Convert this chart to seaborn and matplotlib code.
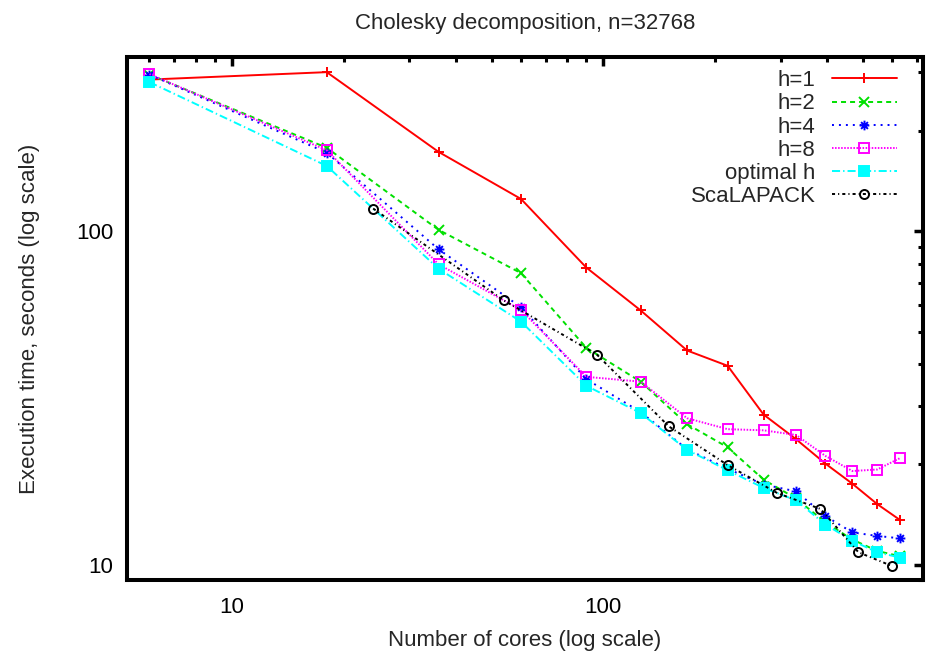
import numpy as np
import pandas as pd
import matplotlib
matplotlib.use("Agg")
import matplotlib.pyplot as plt
import matplotlib.ticker as mticker
from matplotlib.path import Path
import seaborn as sns

# cores used by the h-variants (6 * triangular numbers)
cores_h = [6, 18, 36, 60, 90, 126, 168, 216, 270, 330, 396, 468, 546, 630]
# cores used by ScaLAPACK (6 * squares)
cores_sl = [24, 54, 96, 150, 216, 294, 384, 486, 600]

t_h1 = [285, 300, 173, 125, 77.8, 57.9, 43.9, 39.5, 28.2, 23.8, 20.1, 17.5, 15.2, 13.6]
t_h2 = [295, 178, 101, 74.9, 44.7, 35.4, 26.4, 22.5, 18.0, 15.8, 13.4, 11.9, 11.0, 10.6]
t_h4 = [295, 172, 88.3, 59.2, 36.0, 28.7, 22.2, 19.4, 17.4, 16.6, 14.0, 12.5, 12.2, 12.0]
t_h8 = [296, 175, 79.6, 58.1, 36.6, 35.4, 27.5, 25.5, 25.3, 24.5, 21.2, 19.1, 19.3, 20.9]
t_opt = [280, 157, 77.2, 53.6, 34.4, 28.5, 22.1, 19.2, 17.0, 15.6, 13.2, 11.8, 10.9, 10.5]
t_sl = [117, 62.0, 42.7, 26.0, 19.9, 16.4, 14.7, 10.9, 9.9]

sns.set_theme(style="white")
plt.rcParams["font.family"] = ["Liberation Sans", "DejaVu Sans"]
plt.rcParams["lines.scale_dashes"] = False

# gnuplot-like asterisk: a plus and a cross on top of each other
star = Path([(-1, 0), (1, 0), (0, -1), (0, 1),
             (-0.7, -0.7), (0.7, 0.7), (-0.7, 0.7), (0.7, -0.7)],
            [Path.MOVETO, Path.LINETO] * 4)

fig = plt.figure(figsize=(9.32, 6.57), dpi=100)
ax = fig.add_axes([0.1363, 0.1172, 0.854, 0.796])

series = [
    ("h=1", cores_h, t_h1, "#ff0000", "+", "-", True, 7),
    ("h=2", cores_h, t_h2, "#00e000", "x", (0, (3.6, 2.9)), True, 6.5),
    ("h=4", cores_h, t_h4, "#0000ff", star, (0, (1.4, 3.6)), True, 7),
    ("h=8", cores_h, t_h8, "#ff00ff", "s", (0, (1.1, 1.1)), False, 6.5),
    ("optimal h", cores_h, t_opt, "#00ffff", "s", (0, (5.8, 2.2, 1.0, 2.2)), True, 6.5),
    ("ScaLAPACK", cores_sl, t_sl, "#000000", "o", (0, (2.2, 2.2, 0.8, 2.2)), False, 6.5),
]

for name, xs, ys, col, mk, ls, filled, ms in series:
    df = pd.DataFrame({"cores": xs, "time": ys})
    sns.lineplot(data=df, x="cores", y="time", ax=ax, color=col, marker=mk,
                 linestyle=ls, linewidth=1.4, markersize=ms,
                 markeredgecolor=col, markeredgewidth=1.4,
                 markerfacecolor=col if filled else "none", label=name,
                 legend=False)

ax.set_xscale("log")
ax.set_yscale("log")
ax.set_xlim(5.22, 725)
ax.set_ylim(9, 333)

for a in (ax.xaxis, ax.yaxis):
    a.set_major_formatter(mticker.FormatStrFormatter("%g"))
    a.set_minor_formatter(mticker.NullFormatter())

ax.tick_params(which="both", direction="in", top=True, right=True, colors="black",
               labelsize=16)
ax.tick_params(which="major", length=6.5, width=2.5)
ax.tick_params(which="minor", length=3.5, width=2.2)
ax.tick_params(axis="x", pad=12)
ax.tick_params(axis="y", pad=10)
for sp in ax.spines.values():
    sp.set_linewidth(2.9)
    sp.set_color("black")

ax.set_xlabel("Number of cores (log scale)", fontsize=16, labelpad=9)
ax.set_ylabel("Execution time, seconds (log scale)", fontsize=16, labelpad=26)
ax.set_title("Cholesky decomposition, n=32768", fontsize=16, pad=20)

ax.legend(loc="upper right", frameon=False, markerfirst=False, fontsize=16,
          handlelength=2.9, handletextpad=0.75, labelspacing=0.1,
          borderaxespad=0, borderpad=0, bbox_to_anchor=(0.967, 0.975))

fig.savefig("out.png", dpi=100)
